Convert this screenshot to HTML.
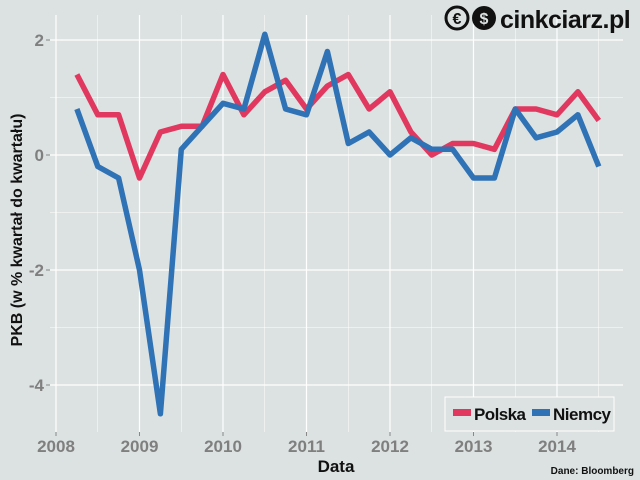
<!DOCTYPE html>
<html><head><meta charset="utf-8"><style>
html,body{margin:0;padding:0;background:#dce2e2;}
svg{display:block;font-family:"Liberation Sans",sans-serif;}
</style></head><body>
<svg id="s" width="640" height="480" viewBox="0 0 640 480">
<rect width="640" height="480" fill="#dce2e2"/>
<g id="grid"></g>
<g id="lines"></g>
<g font-weight="bold" fill="#7f7f7f" font-size="17" text-anchor="end">
<text x="44" y="46">2</text><text x="44" y="161">0</text><text x="44" y="276">-2</text><text x="44" y="391">-4</text>
</g>
<g id="xl" font-weight="bold" fill="#7f7f7f" font-size="17" text-anchor="middle"></g>
<text x="336" y="472" text-anchor="middle" font-weight="bold" font-size="17" fill="#111">Data</text>
<text transform="translate(22,230) rotate(-90)" text-anchor="middle" font-weight="bold" font-size="16" fill="#111">PKB (w % kwartał do kwartału)</text>
<text x="634" y="474" text-anchor="end" font-weight="bold" font-size="10" fill="#111">Dane: Bloomberg</text>
<rect x="445" y="397" width="169" height="34" fill="#dce2e2" stroke="#fff" stroke-width="1"/>
<rect x="453" y="409" width="18" height="7" fill="#e0385f"/>
<text x="474" y="420" font-weight="bold" font-size="17" fill="#111" textLength="52">Polska</text>
<rect x="532" y="409" width="18" height="7" fill="#2f72b5"/>
<text x="553" y="420" font-weight="bold" font-size="17" fill="#111" textLength="58">Niemcy</text>
<g>
<circle cx="457" cy="18" r="11" fill="none" stroke="#111" stroke-width="3"/>
<text x="457" y="24" text-anchor="middle" font-weight="bold" font-size="16" fill="#111">€</text>
<circle cx="484" cy="18" r="12" fill="#111"/>
<text x="484" y="24" text-anchor="middle" font-weight="bold" font-size="16" fill="#dce2e2">$</text>
<text x="500" y="28" font-weight="bold" font-size="25" fill="#111" letter-spacing="-0.5">cinkciarz.pl</text>
</g>
</svg>
<script>
var ns="http://www.w3.org/2000/svg";
function X(t){return 56+(t-2008)*83.5;}
function Y(v){return 155-v*57.5;}
var L=50,R=623,T=15,B=432,g=document.getElementById("grid");
function ln(p,x1,y1,x2,y2,w,c){var e=document.createElementNS(ns,"line");e.setAttribute("x1",x1);e.setAttribute("y1",y1);e.setAttribute("x2",x2);e.setAttribute("y2",y2);e.setAttribute("stroke",c);e.setAttribute("stroke-width",w);p.appendChild(e);}
for(var v=-5;v<=2.5;v+=1){var y=Y(v);if(y>T&&y<B){var major=(Math.round(v)%2==0);ln(g,L,y,R,y,major?1.2:0.5,"#fff");if(major)ln(g,46,y,50,y,1,"#888");}}
for(var t=2008;t<=2014.5;t+=0.5){var x=X(t);var major=(t%1==0);ln(g,x,T,x,B,major?1.2:0.5,"#fff");if(major){ln(g,x,B,x,B+4,1,"#888");var tx=document.createElementNS(ns,"text");tx.setAttribute("x",x);tx.setAttribute("y",B+20);tx.textContent=t;document.getElementById("xl").appendChild(tx);}}
var P=[1.4,0.7,0.7,-0.4,0.4,0.5,0.5,1.4,0.7,1.1,1.3,0.8,1.2,1.4,0.8,1.1,0.4,0.0,0.2,0.2,0.1,0.8,0.8,0.7,1.1,0.6];
var N=[0.8,-0.2,-0.4,-2.0,-4.5,0.1,0.5,0.9,0.8,2.1,0.8,0.7,1.8,0.2,0.4,0.0,0.3,0.1,0.1,-0.4,-0.4,0.8,0.3,0.4,0.7,-0.2];
function path(d,c){var s="";for(var i=0;i<d.length;i++){s+=(i?"L":"M")+X(2008.25+i*0.25).toFixed(1)+","+Y(d[i]).toFixed(1);}var e=document.createElementNS(ns,"path");e.setAttribute("d",s);e.setAttribute("fill","none");e.setAttribute("stroke",c);e.setAttribute("stroke-width",5.5);e.setAttribute("stroke-linejoin","round");document.getElementById("lines").appendChild(e);}
path(P,"#e0385f");path(N,"#2f72b5");
</script>
</body></html>
